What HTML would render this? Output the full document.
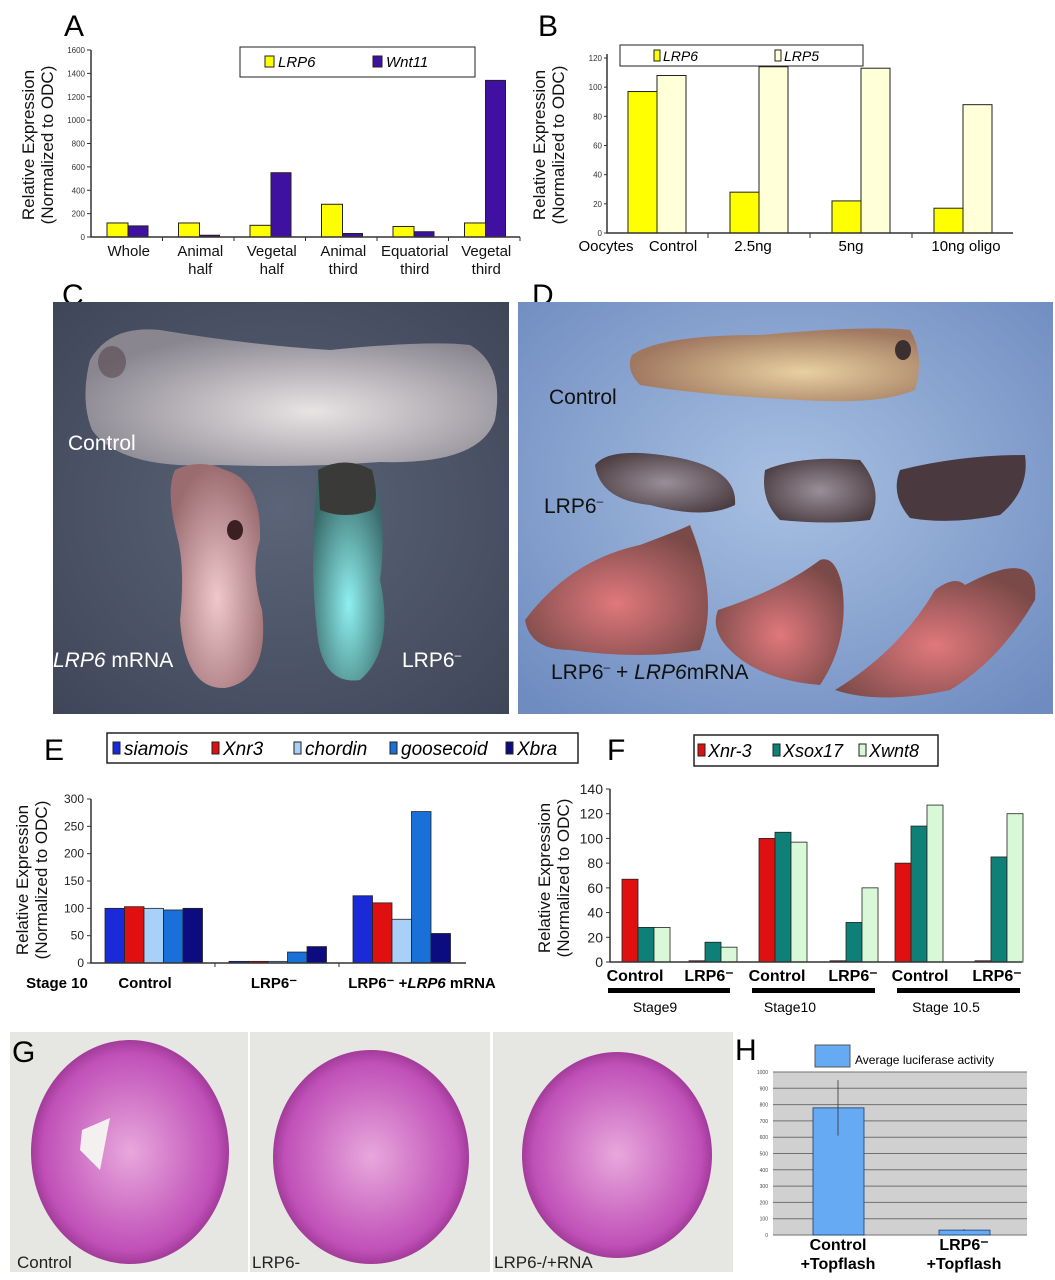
<!DOCTYPE html>
<html><head><meta charset="utf-8"><style>
html,body{margin:0;padding:0;background:#fff;}
svg{display:block;font-family:"Liberation Sans",Arial,sans-serif;}
</style></head><body>
<svg id="fig" width="1055" height="1280" viewBox="0 0 1055 1280" xmlns="http://www.w3.org/2000/svg">
<defs>
<radialGradient id="cbg" cx="50%" cy="50%" r="70%"><stop offset="0" stop-color="#5b6478"/><stop offset="1" stop-color="#3f4658"/></radialGradient>
<radialGradient id="dbg" cx="50%" cy="45%" r="70%"><stop offset="0" stop-color="#a8c0e2"/><stop offset="1" stop-color="#6f8cc0"/></radialGradient>
<radialGradient id="tadC" cx="55%" cy="60%" r="60%"><stop offset="0" stop-color="#e8e4e4"/><stop offset="1" stop-color="#8a8690"/></radialGradient>
<radialGradient id="pink" cx="50%" cy="60%" r="60%"><stop offset="0" stop-color="#f0c8cc"/><stop offset="1" stop-color="#9a6c70"/></radialGradient>
<radialGradient id="cyan" cx="50%" cy="65%" r="60%"><stop offset="0" stop-color="#8ff0f0"/><stop offset="1" stop-color="#3a6a6a"/></radialGradient>
<radialGradient id="tan" cx="60%" cy="60%" r="60%"><stop offset="0" stop-color="#e8d0a0"/><stop offset="1" stop-color="#a07860"/></radialGradient>
<radialGradient id="grayb" cx="50%" cy="50%" r="60%"><stop offset="0" stop-color="#9a8e98"/><stop offset="1" stop-color="#4a3c40"/></radialGradient>
<radialGradient id="red" cx="50%" cy="60%" r="60%"><stop offset="0" stop-color="#e0787c"/><stop offset="1" stop-color="#7a4a48"/></radialGradient>
<radialGradient id="sect" cx="50%" cy="50%" r="55%"><stop offset="0" stop-color="#e8a8dc"/><stop offset="0.8" stop-color="#c050b8"/><stop offset="1" stop-color="#8a2a80"/></radialGradient>
</defs>

<!-- Panel letters -->
<text x="64" y="36" font-size="30">A</text>
<text x="538" y="36" font-size="30">B</text>
<text x="62" y="305" font-size="30">C</text>
<text x="532" y="305" font-size="30">D</text>
<text x="44" y="760" font-size="30">E</text>
<text x="607" y="760" font-size="30">F</text>
<text x="735" y="1060" font-size="30">H</text>

<g id="chartA"></g>
<g id="chartB"></g>

<!-- Photo C -->
<g>
<rect x="53" y="302" width="456" height="412" fill="url(#cbg)"/>
<path d="M90 360 Q110 325 160 330 Q250 345 330 350 Q430 340 470 345 Q505 365 495 420 Q480 465 380 462 Q300 468 220 465 Q120 470 92 430 Q80 400 90 360Z" fill="url(#tadC)"/>
<ellipse cx="112" cy="362" rx="14" ry="16" fill="#5a4a50" opacity="0.6"/>
<path d="M175 470 Q200 458 225 470 Q262 480 260 540 Q250 570 262 610 Q270 680 225 688 Q185 690 180 620 Q185 570 178 540 Q165 490 175 470Z" fill="url(#pink)"/>
<ellipse cx="235" cy="530" rx="8" ry="10" fill="#3a2020"/>
<path d="M318 470 Q345 455 372 470 Q388 520 380 580 Q395 650 360 680 Q325 685 318 640 Q308 560 318 470Z" fill="url(#cyan)"/>
<path d="M318 470 Q345 455 372 470 Q380 500 372 510 Q345 520 320 510Z" fill="#3a3a38"/>
<text x="68" y="450" font-size="21" fill="#fff">Control</text>
<text x="53" y="667" font-size="21" fill="#fff"><tspan font-style="italic">LRP6</tspan> mRNA</text>
<text x="402" y="667" font-size="21" fill="#fff">LRP6<tspan dy="-8" font-size="12">–</tspan></text>
</g>

<!-- Photo D -->
<g>
<rect x="518" y="302" width="535" height="412" fill="url(#dbg)"/>
<path d="M632 355 Q660 335 760 335 Q870 325 910 330 Q925 355 915 390 Q880 405 800 400 Q700 395 640 385 Q625 370 632 355Z" fill="url(#tan)"/>
<ellipse cx="903" cy="350" rx="8" ry="10" fill="#3a3030"/>
<path d="M595 465 Q610 445 680 458 Q738 470 735 505 Q705 520 650 505 Q600 500 595 465Z" fill="url(#grayb)"/>
<path d="M765 470 Q800 455 860 460 Q885 490 870 520 Q830 525 780 520 Q760 500 765 470Z" fill="url(#grayb)"/>
<path d="M900 470 Q960 455 1025 455 Q1030 490 1000 515 Q950 525 910 518 Q890 495 900 470Z" fill="#4a3a40"/>
<path d="M525 620 Q570 560 640 545 Q680 530 690 525 Q720 600 700 650 Q640 660 570 650 Q530 650 525 620Z" fill="url(#red)"/>
<path d="M718 610 Q780 590 820 560 Q835 555 842 585 Q850 640 820 685 Q760 680 730 650 Q710 630 718 610Z" fill="url(#red)"/>
<path d="M835 690 Q900 650 935 590 Q955 575 965 585 Q1040 545 1035 600 Q1000 660 950 690 Q880 705 835 690Z" fill="url(#red)"/>
<text x="549" y="404" font-size="21" fill="#111">Control</text>
<text x="544" y="513" font-size="21" fill="#111">LRP6<tspan dy="-8" font-size="12">–</tspan></text>
<text x="551" y="679" font-size="21" fill="#111">LRP6<tspan dy="-8" font-size="12">–</tspan><tspan dy="8"> + </tspan><tspan font-style="italic">LRP6</tspan>mRNA</text>
</g>

<g id="chartE"></g>
<g id="chartF"></g>

<!-- Panel G -->
<g>
<rect x="10" y="1032" width="238" height="240" fill="#e6e6e2"/>
<rect x="250" y="1032" width="240" height="240" fill="#e6e6e2"/>
<rect x="493" y="1032" width="240" height="240" fill="#e6e6e2"/>
<ellipse cx="130" cy="1152" rx="99" ry="112" fill="url(#sect)"/>
<path d="M82 1130 L110 1118 L100 1170 L80 1150Z" fill="#f4f0f0"/>
<ellipse cx="371" cy="1157" rx="98" ry="107" fill="url(#sect)"/>
<ellipse cx="617" cy="1155" rx="95" ry="103" fill="url(#sect)"/>
<text x="17" y="1268" font-size="17" fill="#222">Control</text>
<text x="252" y="1268" font-size="17" fill="#222">LRP6-</text>
<text x="494" y="1268" font-size="17" fill="#222">LRP6-/+RNA</text>
<text x="12" y="1062" font-size="30">G</text>
</g>

<g id="chartH"></g>
</svg>

<script>
// ---- Panel A data
const aCats = [["Whole"],["Animal","half"],["Vegetal","half"],["Animal","third"],["Equatorial","third"],["Vegetal","third"]];
const aLRP6 = [120,120,100,280,90,120];
const aWnt11 = [95,15,550,30,45,1340];
const aTicks = [0,200,400,600,800,1000,1200,1400,1600];
// ---- Panel B data
const bCats = ["Control","2.5ng","5ng","10ng oligo"];
const bLRP6 = [97,28,22,17];
const bLRP5 = [108,114,113,88];
const bTicks = [0,20,40,60,80,100,120];
// ---- Panel E data
const eCats = ["Control","LRP6-","rescue"];
const eSiamois = [100,3,123];
const eXnr3 = [103,3,110];
const eChordin = [100,3,80];
const eGoosecoid = [97,20,277];
const eXbra = [100,30,54];
const eTicks = [0,50,100,150,200,250,300];
// ---- Panel F data
const fCats = ["Control","LRP6-","Control","LRP6-","Control","LRP6-"];
const fXnr3 = [67,1,100,1,80,1];
const fXsox17 = [28,16,105,32,110,85];
const fXwnt8 = [28,12,97,60,127,120];
const fTicks = [0,20,40,60,80,100,120,140];
// ---- Panel H data
const hCats = ["Control","LRP6-"];
const hValues = [780,30];
const hErr = [170,5];
const hTicks = [0,100,200,300,400,500,600,700,800,900,1000];

const NS="http://www.w3.org/2000/svg";
function mk(parent,tag,attrs,txt){const e=document.createElementNS(NS,tag);for(const k in attrs)e.setAttribute(k,attrs[k]);if(txt!==undefined)e.textContent=txt;parent.appendChild(e);return e;}
function lin(d0,d1,r0,r1){return v=>r0+(v-d0)/(d1-d0)*(r1-r0);}

// ===== Chart A
(function(){
const g=document.getElementById('chartA');
const x0=91,x1=520,yTop=50,yBot=237;
const y=lin(0,1600,yBot,yTop);
const gw=(x1-x0)/aCats.length;
aTicks.forEach(t=>{
 const l=mk(g,'line',{x1:x0-4,x2:x0,y1:y(t),y2:y(t),stroke:'#333'});
 
 
 const tx=mk(g,'text',{x:x0-6,y:y(t)+3,'font-size':8,'text-anchor':'end',fill:'#333'},t);
 
 
});
aCats.forEach((c,i)=>{
 const gx=x0+gw*i;
 const b1=mk(g,'rect',{x:gx+16,y:y(aLRP6[i]),width:21,height:yBot-y(aLRP6[i]),fill:'#ffff00',stroke:'#222','stroke-width':1});
 
 
 const b2=mk(g,'rect',{x:gx+37,y:y(aWnt11[i]),width:20,height:yBot-y(aWnt11[i]),fill:'#4010a0',stroke:'#222','stroke-width':1});
 
 
 const tk=mk(g,'line',{x1:gx+gw,x2:gx+gw,y1:yBot,y2:yBot+4,stroke:'#333'});
 
 
 c.forEach((s,j)=>{const t=mk(g,'text',{x:gx+gw/2+2,y:256+j*18,'font-size':15,'text-anchor':'middle',fill:'#111'},s);
 
 });
});
const ax=mk(g,'path',{d:`M${x0} ${yTop} V${yBot} H${x1}`,fill:'none',stroke:'#333','stroke-width':1.5});


const yt=mk(g,'text',{transform:'translate(34,145) rotate(-90)','font-size':17,'text-anchor':'middle',fill:'#111'});


mk(yt,'tspan',{x:0,y:0},'Relative Expression');mk(yt,'tspan',{x:0,y:19},'(Normalized to ODC)');
const lg=mk(g,'rect',{x:240,y:47,width:235,height:30,fill:'#fff',stroke:'#222'});


mk(g,'rect',{x:265,y:56,width:9,height:11,fill:'#ffff00',stroke:'#222'});
const l1=mk(g,'text',{x:278,y:67,'font-size':15,'font-style':'italic'},'LRP6');


mk(g,'rect',{x:373,y:56,width:9,height:11,fill:'#4010a0',stroke:'#222'});
const l2=mk(g,'text',{x:386,y:67,'font-size':15,'font-style':'italic'},'Wnt11');


})();

// ===== Chart B
(function(){
const g=document.getElementById('chartB');
const x0=607,x1=1013,yTop=58,yBot=233;
const y=lin(0,120,yBot,yTop);
bTicks.forEach(t=>{
 const l=mk(g,'line',{x1:x0-3,x2:x0,y1:y(t),y2:y(t),stroke:'#333'});
 
 
 const tx=mk(g,'text',{x:x0-5,y:y(t)+3,'font-size':8,'text-anchor':'end',fill:'#333'},t);
 
 
});
const o=mk(g,'text',{x:606,y:251,'font-size':15,'text-anchor':'middle'},'Oocytes');


bCats.forEach((c,i)=>{
 const gx=628+i*102;
 const b1=mk(g,'rect',{x:gx,y:y(bLRP6[i]),width:29,height:yBot-y(bLRP6[i]),fill:'#ffff00',stroke:'#222'});
 
 
 const b2=mk(g,'rect',{x:gx+29,y:y(bLRP5[i]),width:29,height:yBot-y(bLRP5[i]),fill:'#ffffd8',stroke:'#222'});
 
 
 const t=mk(g,'text',{x:[673,753,851,966][i],y:251,'font-size':15,'text-anchor':'middle'},c);
 
 
 if(i>0){const tk=mk(g,'line',{x1:gx-22,x2:gx-22,y1:yBot,y2:yBot+5,stroke:'#333'});
 
 }
});
const ax=mk(g,'path',{d:`M${x0} ${yTop-4} V${yBot} H${x1}`,fill:'none',stroke:'#333','stroke-width':1.5});


const yt=mk(g,'text',{transform:'translate(545,145) rotate(-90)','font-size':17,'text-anchor':'middle',fill:'#111'});


mk(yt,'tspan',{x:0,y:0},'Relative Expression');mk(yt,'tspan',{x:0,y:19},'(Normalized to ODC)');
const lg=mk(g,'rect',{x:620,y:45,width:243,height:21,fill:'#fff',stroke:'#222'});


mk(g,'rect',{x:654,y:50,width:6,height:11,fill:'#ffff00',stroke:'#222'});
const l1=mk(g,'text',{x:663,y:61,'font-size':14,'font-style':'italic'},'LRP6');


mk(g,'rect',{x:775,y:50,width:6,height:11,fill:'#ffffd8',stroke:'#222'});
const l2=mk(g,'text',{x:784,y:61,'font-size':14,'font-style':'italic'},'LRP5');


})();

// ===== Chart E
(function(){
const g=document.getElementById('chartE');
const x0=91,x1=466,yTop=799,yBot=963;
const y=lin(0,300,yBot,yTop);
const series=[eSiamois,eXnr3,eChordin,eGoosecoid,eXbra];
const cols=['#1a2ad8','#e01010','#a8d0f8','#1870d8','#0c0c80'];
const names=['siamois','Xnr3','chordin','goosecoid','Xbra'];
eTicks.forEach(t=>{
 const l=mk(g,'line',{x1:x0-4,x2:x0,y1:y(t),y2:y(t),stroke:'#333'});
 
 
 const tx=mk(g,'text',{x:x0-7,y:y(t)+4,'font-size':12,'text-anchor':'end',fill:'#222'},t);
 
 
});
eCats.forEach((c,i)=>{
 const gx=105+i*124;
 series.forEach((s,k)=>{
  const b=mk(g,'rect',{x:gx+k*19.5,y:y(s[i]),width:19.5,height:yBot-y(s[i]),fill:cols[k],stroke:'#222','stroke-width':0.8});
  
  
 });
 if(i>0){const tk=mk(g,'line',{x1:gx-14,x2:gx-14,y1:yBot,y2:yBot+4,stroke:'#333'});
 
 }
});
const ax=mk(g,'path',{d:`M${x0} ${yTop} V${yBot} H${x1}`,fill:'none',stroke:'#333','stroke-width':1.5});


const labs=[[57,'Stage 10'],[145,'Control'],[274,'LRP6⁻'],[422,'']];
labs.forEach(([x,s])=>{if(!s)return;const t=mk(g,'text',{x:x,y:988,'font-size':15,'font-weight':'bold','text-anchor':'middle'},s);
 
 });
const r=mk(g,'text',{x:422,y:988,'font-size':15,'font-weight':'bold','text-anchor':'middle'});


mk(r,'tspan',{},'LRP6⁻ +');mk(r,'tspan',{'font-style':'italic'},'LRP6');mk(r,'tspan',{},' mRNA');
const yt=mk(g,'text',{transform:'translate(28,880) rotate(-90)','font-size':17,'text-anchor':'middle',fill:'#111'});


mk(yt,'tspan',{x:0,y:0},'Relative Expression');mk(yt,'tspan',{x:0,y:19},'(Normalized to ODC)');
const lg=mk(g,'rect',{x:107,y:733,width:471,height:30,fill:'#fff',stroke:'#222','stroke-width':1.5});


const lx=[113,212,294,390,506];
names.forEach((n,k)=>{
 mk(g,'rect',{x:lx[k],y:742,width:7,height:12,fill:cols[k],stroke:'#222'});
 const t=mk(g,'text',{x:lx[k]+11,y:755,'font-size':19,'font-style':'italic'},n);
 
 
});
})();

// ===== Chart F
(function(){
const g=document.getElementById('chartF');
const x0=610,x1=1022,yTop=789,yBot=962;
const y=lin(0,140,yBot,yTop);
const series=[fXnr3,fXsox17,fXwnt8];
const cols=['#e01010','#0e8078','#d8f8d8'];
const names=['Xnr-3','Xsox17','Xwnt8'];
fTicks.forEach(t=>{
 const l=mk(g,'line',{x1:x0-4,x2:x0,y1:y(t),y2:y(t),stroke:'#333'});
 
 
 const tx=mk(g,'text',{x:x0-7,y:y(t)+5,'font-size':14,'text-anchor':'end',fill:'#222'},t);
 
 
});
const starts=[622,689,759,830,895,975];
const lx=[635,709,777,853,920,997];
fCats.forEach((c,i)=>{
 series.forEach((s,k)=>{
  const b=mk(g,'rect',{x:starts[i]+k*16,y:y(s[i]),width:16,height:yBot-y(s[i]),fill:cols[k],stroke:'#222','stroke-width':0.8});
  
  
 });
 const t=mk(g,'text',{x:lx[i],y:981,'font-size':16,'font-weight':'bold','text-anchor':'middle'},c==='LRP6-'?'LRP6⁻':c);
 
 
});
const ax=mk(g,'path',{d:`M${x0} ${yTop} V${yBot} H${x1}`,fill:'none',stroke:'#333','stroke-width':1.5});


[[608,730,655,'Stage9'],[752,875,790,'Stage10'],[897,1020,946,'Stage 10.5']].forEach(([a,b,c,s])=>{
 const r=mk(g,'rect',{x:a,y:988,width:b-a,height:5,fill:'#000'});
 
 
 const t=mk(g,'text',{x:c,y:1012,'font-size':14,'text-anchor':'middle'},s);
 
 
});
const yt=mk(g,'text',{transform:'translate(550,878) rotate(-90)','font-size':17,'text-anchor':'middle',fill:'#111'});


mk(yt,'tspan',{x:0,y:0},'Relative Expression');mk(yt,'tspan',{x:0,y:19},'(Normalized to ODC)');
const lg=mk(g,'rect',{x:694,y:735,width:244,height:31,fill:'#fff',stroke:'#222','stroke-width':1.5});


const lpos=[698,773,859];
names.forEach((n,k)=>{
 mk(g,'rect',{x:lpos[k],y:744,width:7,height:12,fill:cols[k],stroke:'#222'});
 const t=mk(g,'text',{x:lpos[k]+10,y:757,'font-size':18,'font-style':'italic'},n);
 
 
});
})();

// ===== Chart H
(function(){
const g=document.getElementById('chartH');
const x0=773,x1=1027,yTop=1072,yBot=1235;
const y=lin(0,1000,yBot,yTop);
const bg=mk(g,'rect',{x:x0,y:yTop,width:x1-x0,height:yBot-yTop,fill:'#d0d0d0'});


hTicks.forEach(t=>{
 const l=mk(g,'line',{x1:x0,x2:x1,y1:y(t),y2:y(t),stroke:'#707070','stroke-width':1});
 
 
 const tx=mk(g,'text',{x:x0-5,y:y(t)+2,'font-size':5,'text-anchor':'end',fill:'#444'},t);
 
 
});
const bx=[813,939];
hCats.forEach((c,i)=>{
 const b=mk(g,'rect',{x:bx[i],y:y(hValues[i]),width:51,height:yBot-y(hValues[i]),fill:'#66aaf4',stroke:'#1a3a70','stroke-width':0.8});
 
 
 const e=mk(g,'line',{x1:bx[i]+25,x2:bx[i]+25,y1:y(hValues[i]+hErr[i]),y2:y(hValues[i]-hErr[i]),stroke:'#333','stroke-width':0.8});
 
 
 const t=mk(g,'text',{x:bx[i]+25,y:1250,'font-size':16,'font-weight':'bold','text-anchor':'middle'},c==='LRP6-'?'LRP6⁻':c);
 
 
 const t2=mk(g,'text',{x:bx[i]+25,y:1269,'font-size':16,'font-weight':'bold','text-anchor':'middle'},'+Topflash');
 
 
});
const sw=mk(g,'rect',{x:815,y:1045,width:35,height:22,fill:'#66aaf4',stroke:'#555'});


const lt=mk(g,'text',{x:855,y:1064,'font-size':12},'Average luciferase activity');


})();
</script>
</body></html>
